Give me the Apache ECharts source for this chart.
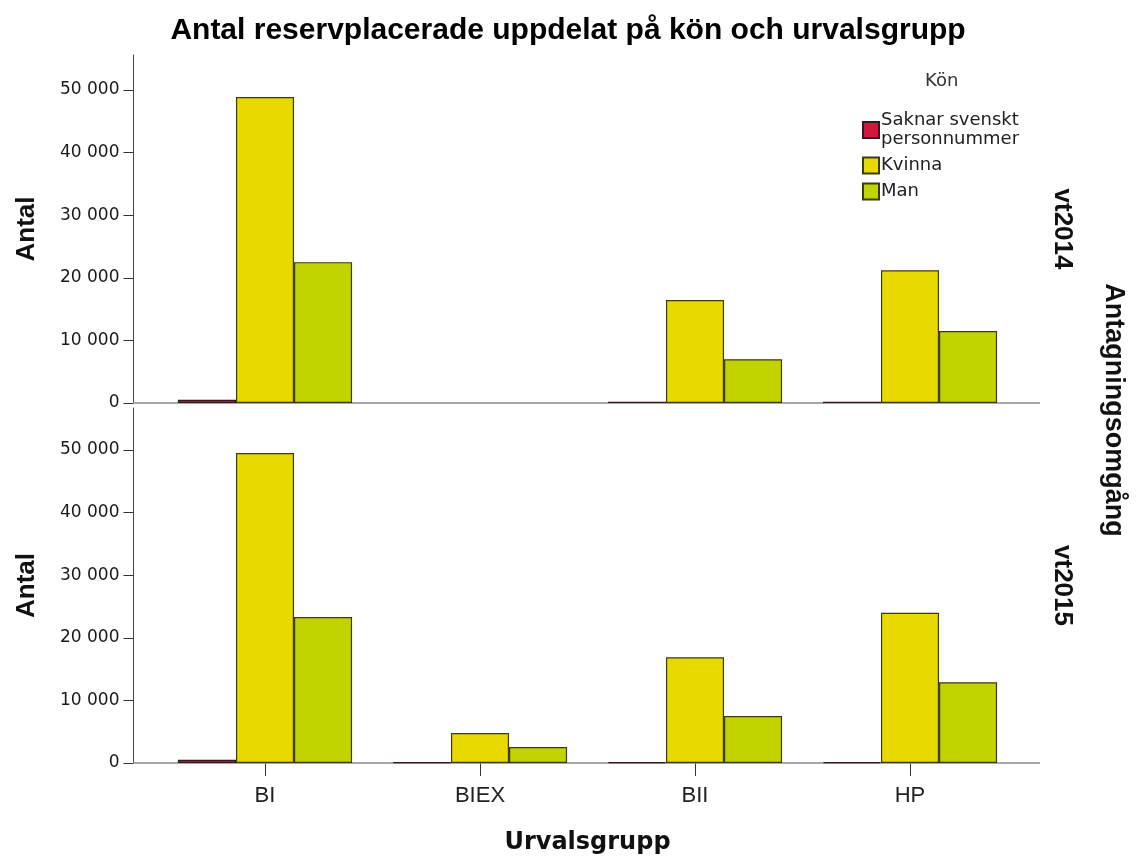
<!DOCTYPE html>
<html><head><meta charset="utf-8">
<script src="https://cdn.jsdelivr.net/npm/echarts@6/dist/echarts.min.js"></script>
<style>html,body{margin:0;padding:0;background:#fff}#c{width:1136px;height:859px}</style>
</head><body><div id="c"></div>
<script>
const categories = ['BI', 'BIEX', 'BII', 'HP'];
const rounds = ['vt2014', 'vt2015'];
const genders = ['Saknar svenskt\npersonnummer', 'Kvinna', 'Man'];
const saknar2014 = [500, null, 200, 200];
const kvinna2014 = [48900, null, 16450, 21200];
const man2014 = [22500, null, 7000, 11500];
const saknar2015 = [500, 100, 150, 150];
const kvinna2015 = [49500, 4800, 16900, 24000];
const man2015 = [23300, 2550, 7500, 12900];
const yTicks = [0, 10000, 20000, 30000, 40000, 50000];

const FONT = '"Liberation Sans", Arial, sans-serif';
const WIDE = '"DejaVu Sans", sans-serif';
const colors = ['#d3163e', '#e8da00', '#c2d400'];
const borders = ['#3a1420', '#3e3a10', '#3e3a10'];
const L = 157.5, R = 1017.5;
const grids = [{top: 55, bottom: 403, max: 55600}, {top: 408, bottom: 763, max: 56700}];
const dataByRound = [[saknar2014, kvinna2014, man2014], [saknar2015, kvinna2015, man2015]];

const fmt = v => v === 0 ? '0' : String(v).replace(/\B(?=(\d{3})+(?!\d))/g, ' ');

const option = {
  backgroundColor: '#fff',
  animation: false,
  title: [{
    text: 'Antal reservplacerade uppdelat på kön och urvalsgrupp',
    left: 'center', top: 11,
    textStyle: {fontFamily: FONT, fontSize: 30, fontWeight: 'bold', color: '#000'}
  }, {
    text: 'Kön', left: 920, top: 67,
    textStyle: {fontFamily: WIDE, fontSize: 18, fontWeight: 'normal', color: '#333'}
  }],
  legend: {
    orient: 'vertical', left: 857, top: 106, itemGap: 7,
    itemWidth: 16, itemHeight: 16, icon: 'rect',
    data: genders,
    textStyle: {fontFamily: WIDE, fontSize: 18, color: '#222', lineHeight: 19, padding: [0, 0, 0, -3]},
    selectedMode: false
  },
  grid: grids.map(g => ({left: L, right: 1136 - R, top: g.top, height: g.bottom - g.top})),
  xAxis: grids.map((g, i) => ({
    type: 'category', gridIndex: i, data: categories,
    axisLine: {show: false},
    axisTick: {show: i === 1, alignWithLabel: true, length: 13, lineStyle: {color: '#333'}},
    axisLabel: {show: i === 1, fontFamily: FONT, fontSize: 22, color: '#222', margin: 22},
    name: i === 1 ? 'Urvalsgrupp' : '', nameLocation: 'middle', nameGap: 68,
    nameTextStyle: {fontFamily: WIDE, fontSize: 24, fontWeight: 'bold', color: '#111'}
  })),
  yAxis: grids.map((g, i) => ({
    type: 'value', gridIndex: i, min: 0, max: g.max, interval: 10000, offset: 24,
    axisLine: {show: true, lineStyle: {color: '#444'}},
    axisTick: {show: true, length: 10, lineStyle: {color: '#333'}, customValues: yTicks},
    axisLabel: {fontFamily: WIDE, fontSize: 17, color: '#1a1a1a', margin: 14, formatter: fmt, customValues: yTicks},
    splitLine: {show: false},
    name: 'Antal', nameLocation: 'middle', nameGap: 94, nameRotate: 90,
    nameTextStyle: {fontFamily: FONT, fontSize: 26, fontWeight: 'bold', color: '#111'}
  })),
  graphic: [
    ...grids.map(g => ({type: 'line', shape: {x1: 133, y1: g.bottom, x2: 1040, y2: g.bottom},
      style: {stroke: '#8a8a8a', lineWidth: 1.5}, z: 1})),
    ...grids.map((g, i) => ({type: 'text', x: 1062, y: (g.top + g.bottom) / 2, rotation: -Math.PI / 2,
      style: {text: rounds[i], fontFamily: FONT, fontSize: 26, fontWeight: 'bold', fill: '#111',
        align: 'center', verticalAlign: 'middle'}})),
    {type: 'text', x: 1113, y: 410, rotation: -Math.PI / 2,
      style: {text: 'Antagningsomgång', fontFamily: FONT, fontSize: 27, fontWeight: 'bold', fill: '#111',
        align: 'center', verticalAlign: 'middle'}}
  ],
  series: []
};

dataByRound.forEach((arrs, gi) => {
  arrs.forEach((arr, si) => {
    option.series.push({
      type: 'bar', name: genders[si], xAxisIndex: gi, yAxisIndex: gi,
      data: arr, barGap: '0%', barCategoryGap: '19%', z: 3,
      itemStyle: {color: colors[si], borderColor: borders[si], borderWidth: 1.2}
    });
  });
});

const chart = echarts.init(document.getElementById('c'), null, {renderer: 'canvas'});
chart.setOption(option);
</script></body></html>
